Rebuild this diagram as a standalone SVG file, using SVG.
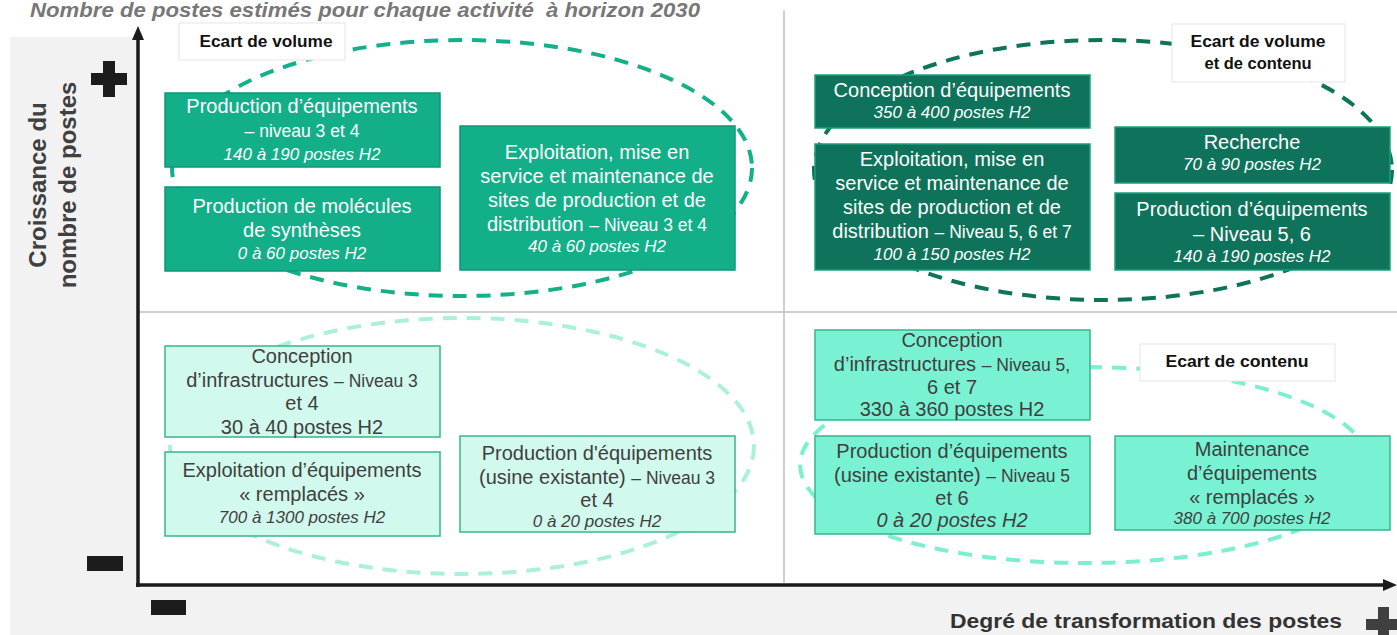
<svg xmlns="http://www.w3.org/2000/svg" width="1397" height="635" viewBox="0 0 1397 635">
<defs>
<style>
.bgband{fill:#f2f2f2}
.div{stroke:#c0c0c0;stroke-width:1.5;fill:none}
.axis{stroke:#1a1a1a;stroke-width:3.5;fill:none}
.sym{fill:#1c1c1c}
.ell{fill:none;stroke-width:4;stroke-dasharray:14 10}
.q1{fill:#12af89;stroke:#0e9877;stroke-width:1.5}
.q2{fill:#0e735a;stroke:#17a27e;stroke-width:1.5}
.q3{fill:#d2f9ed;stroke:#36b58f;stroke-width:1.5}
.q4{fill:#79f2d3;stroke:#36b58f;stroke-width:1.5}
.lbl{fill:#ffffff;stroke:#e6e6e6;stroke-width:1}
text{font-family:"Liberation Sans",Arial,sans-serif;text-anchor:middle}
.tw{fill:#ffffff}
.td{fill:#3f3f3f}
.t1{font-size:20px}
.t2{font-size:17.5px}
.it{font-style:italic;font-size:17px}
.lt{font-weight:bold;font-size:16px;fill:#111111}
</style>
</defs>

<g id="background">
<rect class="bgband" x="10" y="37" width="127" height="550"/>
<rect class="bgband" x="10" y="586" width="1387" height="49"/>
<line class="div" x1="784" y1="10" x2="784" y2="583"/>
<line class="div" x1="137" y1="312" x2="1397" y2="312"/>
</g>

<g id="title">
<text xml:space="preserve" style="white-space:pre" x="365" y="17" font-size="20" font-weight="bold" font-style="italic" fill="#777777" textLength="670" lengthAdjust="spacingAndGlyphs">Nombre de postes estimés pour chaque activité  à horizon 2030</text>
</g>

<g id="groupings">
<ellipse class="ell" cx="462" cy="168" rx="290" ry="128" stroke="#14b08a"/>
<ellipse class="ell" cx="1103" cy="170" rx="289" ry="130" stroke="#0e7459"/>
<ellipse class="ell" cx="462" cy="446" rx="292" ry="128" stroke="#abf0dd"/>
<ellipse class="ell" cx="1085" cy="465" rx="285" ry="98" stroke="#7cefd1"/>
</g>

<g id="connectors">
<line class="axis" x1="138" y1="587" x2="138" y2="36"/>
<polygon class="sym" points="138,26 132,40 144,40"/>
<line class="axis" x1="136" y1="585" x2="1386" y2="585"/>
<polygon class="sym" points="1397,585 1383,579 1383,591"/>
</g>

<g id="axis-labels">
<path class="sym" d="M103,61h12v12h12v12h-12v12h-12v-12h-12v-12h12z"/>
<rect class="sym" x="87" y="556" width="36" height="15"/>
<rect class="sym" x="151" y="600" width="35" height="15"/>
<path fill="#404040" d="M1378,607h11v12h12v11h-12v12h-11v-12h-12v-11h12z"/>
<text transform="translate(46,185) rotate(-90)" x="0" y="0" font-size="24" font-weight="bold" fill="#404040">Croissance du</text>
<text transform="translate(76,185) rotate(-90)" x="0" y="0" font-size="24" font-weight="bold" fill="#404040">nombre de postes</text>
<text x="1146" y="628" font-size="21" font-weight="bold" fill="#333333" textLength="392" lengthAdjust="spacingAndGlyphs">Degré de transformation des postes</text>
</g>

<g id="node-prod-equip-34">
<rect class="q1" x="165" y="93" width="275" height="74"/>
<text class="tw"><tspan class="t1" x="302" y="113">Production d’équipements</tspan><tspan class="t2" x="302" y="137">– niveau 3 et 4</tspan><tspan class="it" x="302" y="160">140 à 190 postes H2</tspan></text>
</g>
<g id="node-molecules">
<rect class="q1" x="165" y="187" width="275" height="84"/>
<text class="tw"><tspan class="t1" x="302" y="213">Production de molécules</tspan><tspan class="t1" x="302" y="237">de synthèses</tspan><tspan class="it" x="302" y="259">0 à 60 postes H2</tspan></text>
</g>
<g id="node-exploit-34">
<rect class="q1" x="460" y="126" width="275" height="144"/>
<text class="tw"><tspan class="t1" x="597" y="159">Exploitation, mise en</tspan><tspan class="t1" x="597" y="183">service et maintenance de</tspan><tspan class="t1" x="597" y="207">sites de production et de</tspan><tspan x="597" y="231"><tspan class="t1">distribution </tspan><tspan class="t2">– Niveau 3 et 4</tspan></tspan><tspan class="it" x="597" y="252">40 à 60 postes H2</tspan></text>
</g>

<g id="node-conception-equip">
<rect class="q2" x="815" y="75" width="275" height="53"/>
<text class="tw"><tspan class="t1" x="952" y="97">Conception d’équipements</tspan><tspan class="it" x="952" y="118">350 à 400 postes H2</tspan></text>
</g>
<g id="node-exploit-567">
<rect class="q2" x="815" y="144" width="275" height="126"/>
<text class="tw"><tspan class="t1" x="952" y="166">Exploitation, mise en</tspan><tspan class="t1" x="952" y="190">service et maintenance de</tspan><tspan class="t1" x="952" y="214">sites de production et de</tspan><tspan x="952" y="238"><tspan class="t1">distribution </tspan><tspan class="t2">– Niveau 5, 6 et 7</tspan></tspan><tspan class="it" x="952" y="260">100 à 150 postes H2</tspan></text>
</g>
<g id="node-recherche">
<rect class="q2" x="1115" y="127" width="275" height="56"/>
<text class="tw"><tspan class="t1" x="1252" y="149">Recherche</tspan><tspan class="it" x="1252" y="170">70 à 90 postes H2</tspan></text>
</g>
<g id="node-prod-equip-56">
<rect class="q2" x="1115" y="193" width="275" height="77"/>
<text class="tw"><tspan class="t1" x="1252" y="216">Production d’équipements</tspan><tspan class="t1" x="1252" y="241">– Niveau 5, 6</tspan><tspan class="it" x="1252" y="262">140 à 190 postes H2</tspan></text>
</g>

<g id="node-conception-infra-34">
<rect class="q3" x="165" y="346" width="275" height="91"/>
<text class="td"><tspan class="t1" x="302" y="363">Conception</tspan><tspan x="302" y="387"><tspan class="t1">d’infrastructures </tspan><tspan class="t2">– Niveau 3</tspan></tspan><tspan class="t1" x="302" y="410">et 4</tspan><tspan class="t1" x="302" y="434">30 à 40 postes H2</tspan></text>
</g>
<g id="node-exploit-remplaces">
<rect class="q3" x="165" y="452" width="275" height="84"/>
<text class="td"><tspan class="t1" x="302" y="477">Exploitation d’équipements</tspan><tspan class="t1" x="302" y="501">« remplacés »</tspan><tspan class="it" x="302" y="523">700 à 1300 postes H2</tspan></text>
</g>
<g id="node-prod-usine-34">
<rect class="q3" x="460" y="436" width="275" height="96"/>
<text class="td"><tspan class="t1" x="597" y="460">Production d'équipements</tspan><tspan x="597" y="484"><tspan class="t1">(usine existante) </tspan><tspan class="t2">– Niveau 3</tspan></tspan><tspan class="t1" x="597" y="507">et 4</tspan><tspan class="it" x="597" y="527">0 à 20 postes H2</tspan></text>
</g>

<g id="node-conception-infra-567">
<rect class="q4" x="815" y="330" width="275" height="90"/>
<text class="td"><tspan class="t1" x="952" y="347">Conception</tspan><tspan x="952" y="371"><tspan class="t1">d’infrastructures </tspan><tspan class="t2">– Niveau 5,</tspan></tspan><tspan class="t1" x="952" y="394">6 et 7</tspan><tspan class="t1" x="952" y="416">330 à 360 postes H2</tspan></text>
</g>
<g id="node-prod-usine-56">
<rect class="q4" x="815" y="436" width="275" height="98"/>
<text class="td"><tspan class="t1" x="952" y="458">Production d’équipements</tspan><tspan x="952" y="482"><tspan class="t1">(usine existante) </tspan><tspan class="t2">– Niveau 5</tspan></tspan><tspan class="t1" x="952" y="505">et 6</tspan><tspan class="t1" font-style="italic" x="952" y="527">0 à 20 postes H2</tspan></text>
</g>
<g id="node-maintenance">
<rect class="q4" x="1115" y="436" width="275" height="94"/>
<text class="td"><tspan class="t1" x="1252" y="456">Maintenance</tspan><tspan class="t1" x="1252" y="480">d’équipements</tspan><tspan class="t1" x="1252" y="504">« remplacés »</tspan><tspan class="it" x="1252" y="524">380 à 700 postes H2</tspan></text>
</g>

<g id="label-volume">
<rect class="lbl" x="179" y="23" width="166" height="37"/>
<text class="lt" x="266" y="47" textLength="133" lengthAdjust="spacingAndGlyphs">Ecart de volume</text>
</g>
<g id="label-volume-contenu">
<rect class="lbl" x="1172" y="24" width="173" height="58"/>
<text class="lt"><tspan x="1258" y="47" textLength="135" lengthAdjust="spacingAndGlyphs">Ecart de volume</tspan><tspan x="1258" y="69" textLength="107" lengthAdjust="spacingAndGlyphs">et de contenu</tspan></text>
</g>
<g id="label-contenu">
<rect class="lbl" x="1140" y="344" width="195" height="37"/>
<text class="lt" x="1237" y="367" textLength="143" lengthAdjust="spacingAndGlyphs">Ecart de contenu</text>
</g>
</svg>
